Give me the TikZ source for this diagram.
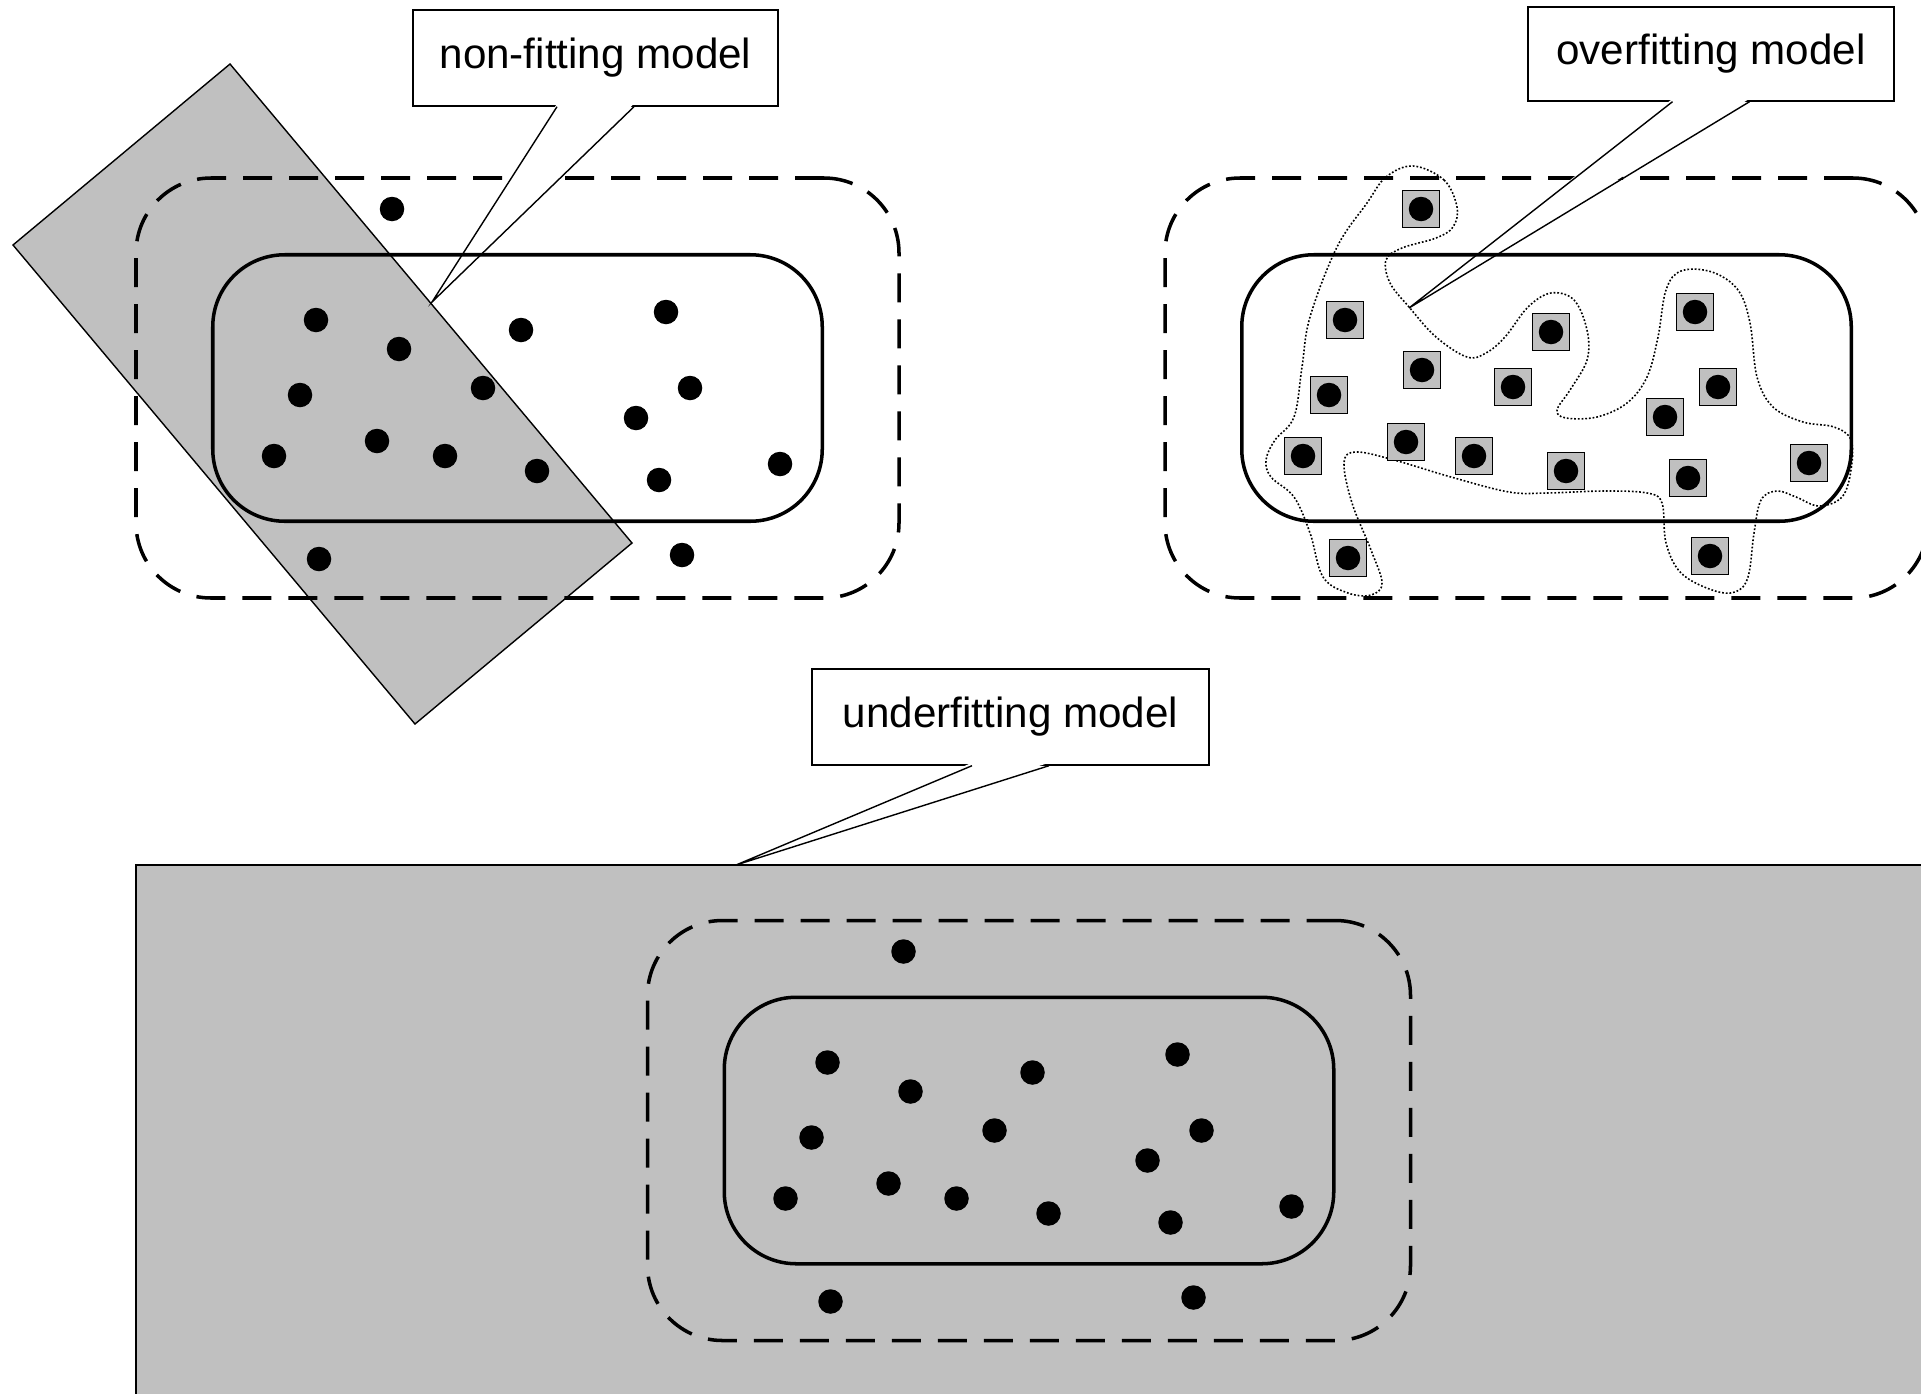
\documentclass[tikz,border=0pt]{standalone}
\usepackage{fontspec}
\setmainfont{Liberation Sans}
\usetikzlibrary{calc}
\definecolor{silver}{RGB}{192,192,192}
\tikzset{
  fullset/.style={draw, line width=1pt, dash pattern=on 2.9mm off 1.7mm,
                  rounded corners=7.5mm, minimum width=76.3mm, minimum height=42mm},
  coreset/.style={draw, line width=1pt, rounded corners=7.2mm,
                  minimum width=60.95mm, minimum height=26.65mm},
  datum/.style={circle, fill=black, inner sep=0pt, minimum size=2.45mm},
  picked/.style={draw, line width=0.45pt, fill=silver, inner sep=0pt, minimum size=3.7mm},
  area/.style={draw, line width=0.4pt, fill=silver},
  note/.style={draw, line width=0.4pt, fill=white, inner sep=0pt,
               font=\fontsize{12}{14}\selectfont, minimum height=9.6mm},
  tip/.style={draw, line width=0.4pt},
  fence/.style={line width=0.45pt, dash pattern=on 0.5pt off 0.55pt},
}
\newcommand\datapts{392/209, 316/320, 399/349, 300/395, 483/388, 274/456,
  377/441, 445/456, 537/471, 521/330, 666/312, 690/388, 636/418, 659/480,
  780/464, 319/559, 682/555}
\newcommand\fitpts{1421/209, 1345/320, 1422/370, 1329/395, 1513/387,
  1303/456, 1406/442, 1474/456, 1566/471, 1551/332, 1695/312, 1718/387,
  1665/417, 1688/478, 1809/463, 1348/558, 1710/556}

\begin{document}
\begin{tikzpicture}[x=0.1mm, y=-0.1mm]
  \useasboundingbox (0,0) rectangle (1921,1393);
  % model areas
  \draw[area] (230,64) -- (13,245) -- (415,724) -- (632,543) -- cycle;
  \draw[area] (136,865) rectangle (1940,1410);
  \coordinate (nftip) at (432,302);
  \coordinate (oftip) at (1409,308);
  \coordinate (uftip) at (736,865);
  % data sets
  \node[fullset] (lout) at (517.5,388) {};
  \node[fullset] (rout) at (1546.5,388) {};
  \node[fullset] (bout) at (1029,1130.5) {};
  % callouts
  \node[note, minimum width=36.5mm] (nf) at (595.5,58) {non-fitting model};
  \fill[white] ([xshift=-3.85mm,yshift=0.3mm]nf.south) -- (nftip)
    -- ([xshift=3.85mm,yshift=0.3mm]nf.south) -- cycle;
  \draw[tip] ([xshift=-3.85mm]nf.south) -- (nftip) -- ([xshift=3.85mm]nf.south);
  \node[note, minimum width=36.6mm, minimum height=9.4mm] (of) at (1711,54) {overfitting model};
  \fill[white] ([xshift=-3.85mm,yshift=0.3mm]of.south) -- (oftip)
    -- ([xshift=3.85mm,yshift=0.3mm]of.south) -- cycle;
  \draw[tip] ([xshift=-3.85mm]of.south) -- (oftip) -- ([xshift=3.85mm]of.south);
  \node[note, minimum width=39.7mm] (uf) at (1010.5,717) {underfitting model};
  \fill[white] ([xshift=-3.85mm,yshift=0.3mm]uf.south) -- (uftip)
    -- ([xshift=3.85mm,yshift=0.3mm]uf.south) -- cycle;
  \draw[tip] ([xshift=-3.85mm]uf.south) -- (uftip) -- ([xshift=3.85mm]uf.south);
  \node[coreset] (lin) at (lout) {};
  \node[coreset] (rin) at (rout) {};
  \node[coreset] (bin) at (bout) {};
  % overfitting boundary
  \draw[fence] plot[smooth cycle, tension=0.6] coordinates {
    (1413,166) (1444,180) (1457,207) (1453,227) (1436,238) (1402,248)
    (1386,260) (1390,283) (1409,307) (1436,337) (1467,357) (1486,353)
    (1505,337) (1528,307) (1551,293) (1574,300) (1587,330) (1587,360)
    (1570,390) (1557,410) (1566,418) (1597,417) (1627,403) (1647,377)
    (1658,337) (1666,290) (1681,271) (1712,272) (1738,290) (1750,323)
    (1757,377) (1773,407) (1803,422) (1834,427) (1851,440) (1851,470)
    (1842,497) (1819,506) (1796,497) (1777,491) (1761,500) (1754,533)
    (1748,577) (1735,592) (1712,590) (1681,573) (1666,543) (1662,503)
    (1647,493) (1604,491) (1547,493) (1509,492) (1451,477) (1394,460)
    (1356,452) (1344,463) (1352,503) (1371,550) (1382,583) (1371,595)
    (1348,593) (1323,577) (1310,533) (1294,497) (1271,477) (1266,460)
    (1275,440) (1294,417) (1302,367) (1310,317) (1337,247) (1367,203)
    (1386,177)};
  % data points
  \foreach \x/\y [count=\i] in \datapts
    \node[datum] (a\i) at (\x,\y) {};
  \begin{scope}[shift={(511.5,742.5)}]
    \foreach \x/\y [count=\i] in \datapts
      \node[datum] (c\i) at (\x,\y) {};
  \end{scope}
  \foreach \x/\y [count=\i] in \fitpts {
    \node[picked] (b\i) at (\x,\y) {};
    \node[datum] (bd\i) at (b\i) {};
  }
\end{tikzpicture}
\end{document}
